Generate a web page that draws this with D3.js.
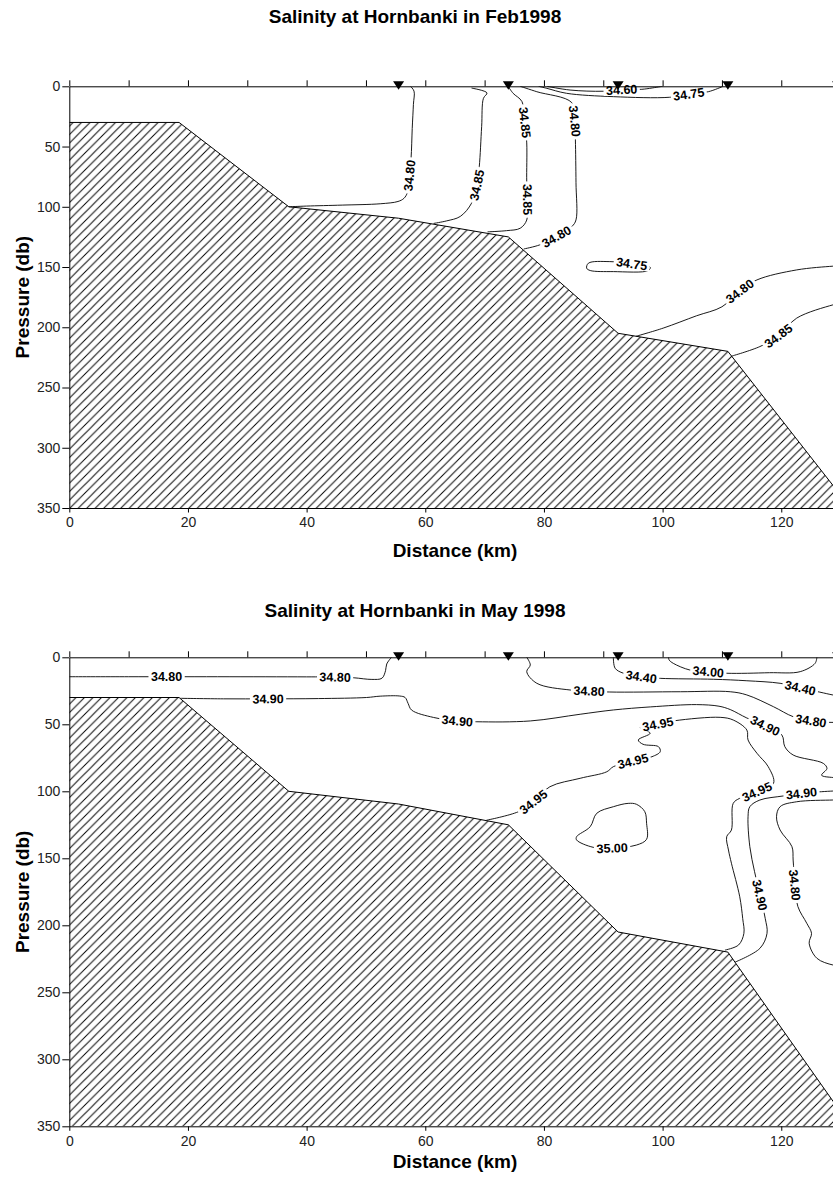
<!DOCTYPE html>
<html>
<head>
<meta charset="utf-8">
<script src="https://cdn.jsdelivr.net/npm/d3@7"></script>
<style>
  body { margin: 0; background: #fff; }
  svg { display: block; font-family: "Liberation Sans", Arial, Helvetica, sans-serif; }
</style>
</head>
<body>
<svg id="chart" width="833" height="1177"></svg>
<script>
// ---- section geometry -------------------------------------------------------
const stationKm = [55.5, 74, 92.5, 111, 129.5];
const floorKm = [0, 18.5, 37, 55.5, 74, 92.5, 111, 131.7];
const floorDb = [30, 30, 100, 109.5, 125, 205, 220, 350];

const xTickLabels = [0, 20, 40, 60, 80, 100, 120];
const xMinorTicks = [0, 10, 20, 30, 40, 50, 60, 70, 80, 90, 100, 110, 120, 130];
const yTicks = [0, 50, 100, 150, 200, 250, 300, 350];

// ---- February 1998 isohalines: [km, db] -------------------------------------
const feb3480west = [[57.5,0],[58.1,4],[58.0,15],[57.8,35],[57.6,60],[57.3,75],[57.0,88],[56.4,93],[55.4,95.6],[52.4,97.5],[46,98.6],[40,99.4],[37,100]];
const feb3485west = [[67.8,1.5],[70.4,5.5],[69.8,10],[69.5,33.5],[69.1,66.7],[68.7,82],[67.8,97],[65.9,108],[63.6,111.7],[61.4,113.8]];
const feb3485mid = [[74,0.3],[74.8,5.8],[76.3,12.7],[76.8,30],[77.1,47],[77.1,79],[77.25,94],[77.1,111],[76,117.8],[73.7,119.8],[70.5,120.8]];
const feb3480mid = [[76,0],[78.8,4.5],[84.7,13.6],[85.2,29],[85.3,44.5],[85.4,80],[85.4,110.9],[84.7,116.4],[82.1,124.7],[79.3,131.6],[76.6,135]];
const feb3475surf = [[79.1,0],[80.5,1.7],[83.8,5.8],[91.7,8.6],[101.2,9.1],[104.4,6.5],[107.7,4.5],[110.2,0]];
const feb3460surf = [[80.5,0],[84.4,3.1],[90,4.1],[93.1,2.8],[96.5,2.5],[99.6,0.3],[100,0]];
const feb3475pool = [[87.2,151],[87.5,146.8],[91.1,145.5],[94.8,147.3],[97.9,150.1],[97.6,152.9],[91.7,153.8],[87.8,152.9],[87.2,151]];
const feb3480east = [[95.5,207.5],[100.1,200.7],[105.7,190.5],[110,183],[113,170],[115.9,160.7],[122.6,152.4],[128.7,149.3],[130,149]];
const feb3485east = [[111.6,224],[116.4,216],[119.5,207.1],[122.6,192.4],[128.7,181.4],[130,180]];

const febLines = [feb3480west, feb3485west, feb3485mid, feb3480mid, feb3475surf,
                  feb3460surf, feb3475pool, feb3480east, feb3485east];
const febLabels = [
  ["34.80", 57.35, 74], ["34.85", 68.7, 82], ["34.85", 76.8, 30], ["34.85", 77.2, 94],
  ["34.80", 85.2, 29], ["34.80", 82.1, 124.7], ["34.75", 104.4, 6.5], ["34.60", 93.1, 2.8],
  ["34.75", 94.8, 147.4], ["34.80", 113, 170], ["34.85", 119.5, 207.1]
];

// ---- May 1998 isohalines: [km, db] ------------------------------------------
const may3480shelf = [[0,14.5],[10,14.5],[25,14.5],[40,14.6],[45,14.7],[48,15.3],[51,16.5],[52.7,15.6],[53.3,10],[53.5,5],[54.3,0]];
const may3490 = [[18.7,30.6],[26,31],[33.5,31],[42,30.8],[50.1,30],[52.4,29],[55.7,28.9],[56.6,30],[57.1,34.4],[57.7,39.4],[61.4,44.9],[65.4,47.4],[68.7,48.1],[77.7,47.5],[86.1,42.5],[91.7,39.3],[98,37],[105.7,35.3],[109.5,36.5],[111.4,39],[114.2,45.3],[117.3,51],[120.1,58],[120.6,66.7],[122,72.9],[127.1,79.2],[127.7,83],[126.8,88],[128.7,89.7],[130,90]];
const may3480 = [[77.1,0],[77.7,5.7],[77.1,10.7],[78.8,19.4],[84.4,24.4],[87.6,25.1],[91.1,25.9],[103,25.7],[111.4,25.7],[114.2,28.1],[118.7,36.9],[122,44.3],[125,47.3],[127.9,48.5],[130,48.5]];
const may3440 = [[91.7,0],[92,8.2],[93.4,11.9],[96.4,14.5],[99.6,15.7],[108.6,16.4],[114.2,17.5],[119.8,19.4],[123.2,22.8],[126.5,26],[128.7,28.1],[130,29]];
const may3400 = [[101,0],[101.1,2],[101.8,4.5],[104.6,9.5],[107.7,10.7],[110.8,11.9],[118,11.5],[123.2,10.7],[125.7,4.5],[126,0]];
const may3495 = [[70.3,121.6],[75.7,115.2],[78.2,107.8],[81,96.6],[86.1,90.3],[90.6,85.4],[91.7,81.6],[95,77.4],[98.2,74.2],[99.6,70.4],[99.3,66.7],[96.7,64.9],[95.9,61.7],[97.9,56.7],[96.6,53.5],[96.2,52.3],[99.2,49.8],[102.1,47.3],[109.7,44.8],[111.9,46.8],[114.2,54.3],[114.4,61.7],[115.9,71.6],[117.8,81.6],[118.7,94],[115.9,100.3],[113,105.2],[111.9,109],[111.6,128.9],[110.8,133.9],[111.1,143.8],[111.6,153.7],[113,178.7],[113.5,195],[113.7,206],[112.8,214.7],[110.5,218.5]];
const may3500 = [[85.5,133.9],[87.8,126.4],[88.9,116.4],[91.7,111.5],[94.2,109],[95.6,109.7],[97,115.2],[97.3,123.9],[97.3,135.8],[95.6,140.1],[91.5,142.3],[88.3,141.8],[85.5,136.3],[85.5,133.9]];
const may3490east = [[130,99.5],[128.7,99.8],[126.8,100.3],[123.4,101.5],[120.3,103.5],[116.4,106.5],[114.7,111.5],[114.4,119],[114.7,141.3],[115.5,160],[116.4,177.4],[117.3,195],[117.6,206],[116.4,217.2],[112.2,227.5]];
const may3480east = [[130,106.3],[128.7,106.5],[122.6,107.8],[119.8,111.5],[119.2,119],[119.8,128.9],[121.8,141.3],[122,151.3],[122.3,169.9],[122.8,186],[124.3,198.5],[125.1,206],[124.7,213.4],[126,224.6],[128.7,229.6],[130,230]];

const mayLines = [may3480shelf, may3490, may3480, may3440, may3400, may3495,
                  may3500, may3490east, may3480east];
const mayLabels = [
  ["34.80", 16.4, 14.5], ["34.80", 44.8, 14.6], ["34.90", 33.5, 31], ["34.90", 65.4, 47.4],
  ["34.90", 117.3, 51], ["34.80", 87.6, 25.1], ["34.80", 125, 47.3], ["34.40", 96.4, 14.5],
  ["34.40", 123.2, 22.8], ["34.00", 107.7, 10.7], ["34.95", 78.2, 107.8], ["34.95", 95, 77.4],
  ["34.95", 99.2, 49.8], ["34.95", 115.9, 100.3], ["35.00", 91.5, 142.3],
  ["34.90", 123.4, 101.5], ["34.90", 116.4, 177.4], ["34.80", 122.3, 169.9]
];

// ---- drawing ------------------------------------------------------------------
const W = 833, H = 1177;
const svg = d3.select("#chart");
const defs = svg.append("defs");

const hs = 8.5;
const hatch = defs.append("pattern").attr("id", "hatch")
  .attr("patternUnits", "userSpaceOnUse").attr("width", hs).attr("height", hs);
hatch.append("rect").attr("width", hs).attr("height", hs).attr("fill", "#fff");
hatch.append("path")
  .attr("d", `M-1,1L1,-1M0,${hs}L${hs},0M${hs-1},${hs+1}L${hs+1},${hs-1}`)
  .attr("stroke", "#000").attr("stroke-width", 1);

const panels = [
  { title: "Salinity at Hornbanki in Feb1998", top: 86.3, bottom: 508, titleY: 23, xlabY: 557, lines: febLines, labels: febLabels },
  { title: "Salinity at Hornbanki in May 1998", top: 657.3, bottom: 1126.3, titleY: 617, xlabY: 1168, lines: mayLines, labels: mayLabels }
];

// position and upright angle of a label sitting on a polyline (screen coords)
function labelPose(pts, lx, ly) {
  let best = { d: Infinity }, acc = 0;
  const cum = [0];
  for (let i = 1; i < pts.length; i++) {
    acc += Math.hypot(pts[i][0] - pts[i-1][0], pts[i][1] - pts[i-1][1]);
    cum.push(acc);
  }
  for (let i = 1; i < pts.length; i++) {
    const [ax, ay] = pts[i-1], [bx, by] = pts[i];
    const vx = bx - ax, vy = by - ay, L2 = vx*vx + vy*vy || 1;
    let t = ((lx - ax)*vx + (ly - ay)*vy) / L2;
    t = Math.max(0, Math.min(1, t));
    const px = ax + t*vx, py = ay + t*vy;
    const d = Math.hypot(lx - px, ly - py);
    if (d < best.d) best = { d, x: px, y: py, s: cum[i-1] + t*(cum[i]-cum[i-1]) };
  }
  const at = s => {
    s = Math.max(0, Math.min(acc, s));
    for (let i = 1; i < pts.length; i++) {
      if (cum[i] >= s) {
        const f = (s - cum[i-1]) / ((cum[i]-cum[i-1]) || 1);
        return [pts[i-1][0] + f*(pts[i][0]-pts[i-1][0]), pts[i-1][1] + f*(pts[i][1]-pts[i-1][1])];
      }
    }
    return pts[pts.length-1];
  };
  const a = at(best.s - 14), b = at(best.s + 14);
  let ang = Math.atan2(b[1] - a[1], b[0] - a[0]) * 180 / Math.PI;
  if (ang > 90) ang -= 180;
  if (ang <= -90) ang += 180;
  return { x: best.x, y: best.y, ang, dist: best.d };
}

panels.forEach((p, i) => {
  const x = d3.scaleLinear().domain([0, 130]).range([69.3, 840.6]);
  const y = d3.scaleLinear().domain([0, 350]).range([p.top, p.bottom]);

  defs.append("clipPath").attr("id", "clip" + i).append("rect")
    .attr("x", x(0)).attr("y", y(0))
    .attr("width", x(130) - x(0)).attr("height", y(350) - y(0));

  // titles
  svg.append("text").attr("x", 415).attr("y", p.titleY)
    .attr("text-anchor", "middle").attr("font-weight", "bold").attr("font-size", 19)
    .text(p.title);
  svg.append("text").attr("x", (x(0) + x(130)) / 2).attr("y", p.xlabY)
    .attr("text-anchor", "middle").attr("font-weight", "bold").attr("font-size", 19)
    .text("Distance (km)");
  svg.append("text")
    .attr("transform", `translate(29,${(y(0) + y(350)) / 2}) rotate(-90)`)
    .attr("text-anchor", "middle").attr("font-weight", "bold").attr("font-size", 19)
    .text("Pressure (db)");

  const plot = svg.append("g").attr("clip-path", `url(#clip${i})`);

  // sea floor
  const floor = floorKm.map((k, j) => [k, floorDb[j]]);
  const floorPoly = [[0, 350]].concat(floor, [[floorKm[floorKm.length-1], 350]]);
  plot.append("path")
    .attr("d", d3.line().x(d => x(d[0])).y(d => y(d[1]))(floorPoly) + "Z")
    .attr("fill", "url(#hatch)");
  plot.append("path")
    .attr("d", d3.line().x(d => x(d[0])).y(d => y(d[1]))(floor))
    .attr("fill", "none").attr("stroke", "#000").attr("stroke-width", 1);

  // contour lines, cut where the labels sit
  const mask = defs.append("mask").attr("id", "mask" + i)
    .attr("maskUnits", "userSpaceOnUse")
    .attr("x", 0).attr("y", 0).attr("width", W).attr("height", H);
  mask.append("rect").attr("width", W).attr("height", H).attr("fill", "#fff");

  const lineGen = d3.line().x(d => x(d[0])).y(d => y(d[1])).curve(d3.curveCatmullRom.alpha(0.5));
  const loopGen = d3.line().x(d => x(d[0])).y(d => y(d[1])).curve(d3.curveCatmullRomClosed.alpha(0.5));
  const lines = plot.append("g").attr("mask", `url(#mask${i})`);
  p.lines.forEach(c => {
    const first = c[0], last = c[c.length-1];
    const closed = first[0] === last[0] && first[1] === last[1];
    lines.append("path")
      .attr("d", closed ? loopGen(c.slice(0, -1)) : lineGen(c))
      .attr("fill", "none").attr("stroke", "#000").attr("stroke-width", 0.9);
  });

  const screenLines = p.lines.map(c => c.map(d => [x(d[0]), y(d[1])]));
  const labG = svg.append("g");
  p.labels.forEach(([txt, km, db]) => {
    const lx = x(km), ly = y(db);
    let pose = null;
    screenLines.forEach(pts => {
      const q = labelPose(pts, lx, ly);
      if (!pose || q.dist < pose.dist) pose = q;
    });
    const t = labG.append("text")
      .attr("transform", `translate(${pose.x},${pose.y}) rotate(${pose.ang})`)
      .attr("text-anchor", "middle").attr("dy", "0.36em")
      .attr("font-size", 12.5).attr("font-weight", "bold")
      .text(txt);
    const w = t.node().getComputedTextLength();
    mask.append("rect")
      .attr("x", -w / 2 - 2.5).attr("y", -5.5).attr("width", w + 5).attr("height", 11)
      .attr("transform", `translate(${pose.x},${pose.y}) rotate(${pose.ang})`)
      .attr("fill", "#000");
  });

  // axes
  const axTop = svg.append("g").attr("transform", `translate(0,${y(0)})`)
    .call(d3.axisTop(x).tickValues(xMinorTicks).tickSize(6).tickSizeOuter(0).tickFormat(""));
  const axBot = svg.append("g").attr("transform", `translate(0,${y(350)})`)
    .call(d3.axisBottom(x).tickValues(xTickLabels).tickSize(4.5).tickSizeOuter(0).tickPadding(5));
  const axLeft = svg.append("g").attr("transform", `translate(${x(0)},0)`)
    .call(d3.axisLeft(y).tickValues(yTicks).tickSize(7).tickSizeOuter(0).tickPadding(2));
  [axTop, axBot, axLeft].forEach(a => {
    a.selectAll("text").attr("font-size", 14).attr("fill", "#222")
      .attr("font-family", "'Liberation Sans', Arial, sans-serif");
    a.selectAll("line,path").attr("stroke", "#000");
  });

  // station markers
  svg.append("g").selectAll("path").data(stationKm).join("path")
    .attr("d", k => `M${x(k)-5.5},${y(0)-5}L${x(k)+5.5},${y(0)-5}L${x(k)},${y(0)+3.5}Z`)
    .attr("fill", "#000");
});
</script>
</body>
</html>
